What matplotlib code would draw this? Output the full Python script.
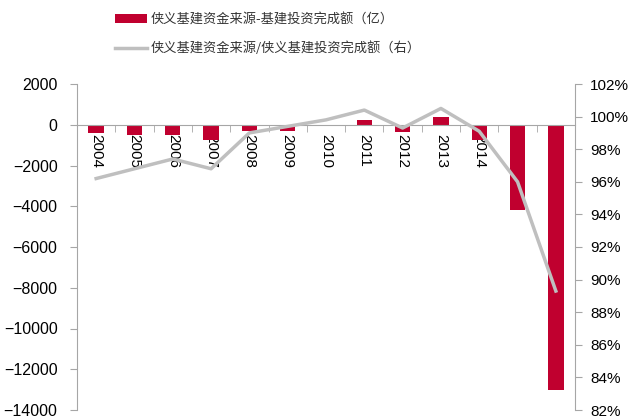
import numpy as np
import matplotlib.pyplot as plt
from matplotlib.patches import Patch
from matplotlib.lines import Line2D
from matplotlib.ticker import FuncFormatter, FixedLocator

plt.rcParams['font.family'] = ['Liberation Sans', 'Noto Sans CJK SC', 'DejaVu Sans']

years = ['2004', '2005', '2006', '2007', '2008', '2009', '2010',
         '2011', '2012', '2013', '2014', '2015', '2016']
# 资金来源 - 基建投资完成额 (亿)
gap = [-400, -490, -490, -730, -290, -290, -80, 210, -340, 360, -730, -4200, -13000]
# 资金来源 / 完成额 (%)
ratio = [96.2, 96.8, 97.4, 96.8, 99.0, 99.4, 99.8, 100.4, 99.3, 100.5, 99.1, 96.0, 89.3]

label_bar = '侠义基建资金来源-基建投资完成额（亿）'
label_line = '侠义基建资金来源/侠义基建投资完成额（右）'

bar_color = '#C0002F'
line_color = '#BFBFBF'
axis_color = '#A6A6A6'

fig = plt.figure(figsize=(6.29, 4.18), dpi=100)
ax = fig.add_axes([77/629, 1 - 410/418, (575 - 77)/629, (410 - 84)/418])
ax2 = ax.twinx()

x = np.arange(len(years))
ax.bar(x, gap, width=0.4, color=bar_color, zorder=2)
ax.set_xlim(-0.5, len(years) - 0.5)
ax.set_ylim(-14000, 2000)
ax.set_yticks(np.arange(-14000, 2001, 2000))

ax2.plot(x, ratio, color=line_color, lw=2.5, zorder=3)
ax2.set_ylim(82, 102)
ax2.set_yticks(np.arange(82, 103, 2))
ax2.yaxis.set_major_formatter(FuncFormatter(lambda v, p: f'{v:.0f}%'))

# x axis sits on the zero line
ax.spines['bottom'].set_position(('data', 0))
for a in (ax, ax2):
    a.spines['top'].set_visible(False)
    for s in ('left', 'right', 'bottom'):
        a.spines[s].set_color(axis_color)
ax2.spines['bottom'].set_visible(False)
ax.spines['right'].set_visible(False)
ax2.spines['left'].set_visible(False)

ax.set_xticks(x)
ax.set_xticklabels(years, rotation=270, fontsize=11, va='top', ha='center')
ax.xaxis.set_minor_locator(FixedLocator(np.arange(-0.5, len(years), 1)))
ax.tick_params(axis='x', which='major', length=0, pad=7)
ax.tick_params(axis='x', which='minor', length=5, color=axis_color, direction='out')
ax.tick_params(axis='y', length=5, color=axis_color, labelsize=11.5, pad=9)
ax2.tick_params(axis='y', length=5, color=axis_color, labelsize=11, pad=6)

ax.set_zorder(ax2.get_zorder() - 1)
ax2.patch.set_visible(False)

handles = [Patch(facecolor=bar_color, edgecolor='none'),
           Line2D([0], [0], color=line_color, lw=2.5)]
fig.legend(handles, [label_bar, label_line], loc='upper left',
           bbox_to_anchor=(110/629, 1 - 8/418), frameon=False, borderaxespad=0,
           prop={'family': ['Noto Sans CJK SC', 'DejaVu Sans'], 'size': 9.5},
           handlelength=2.4, handletextpad=0.25, labelspacing=1.15, labelcolor='#333333')

fig.savefig('out.png', dpi=100)
